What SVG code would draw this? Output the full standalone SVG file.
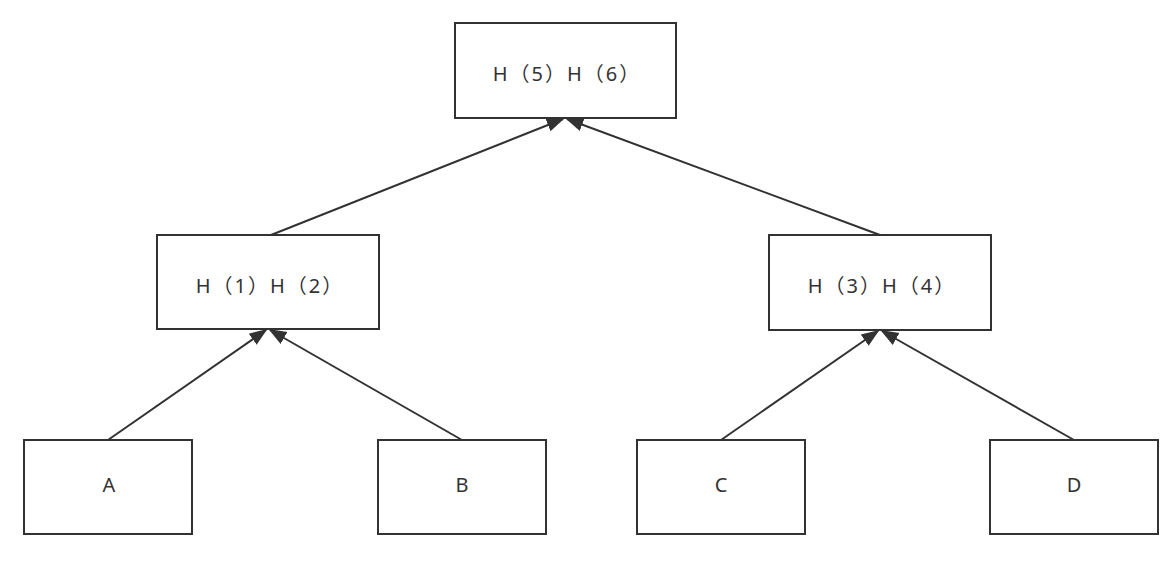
<svg xmlns="http://www.w3.org/2000/svg" width="1173" height="566" viewBox="0 0 1173 566">
<defs>
<style>
.box{fill:#fff;stroke:#323232;stroke-width:2}
.lbl{font-family:"Noto Sans","Noto Sans CJK SC",sans-serif;font-size:20px;fill:#333;text-anchor:middle}
.h{letter-spacing:2px}
.edge{stroke:#323232;stroke-width:2;fill:none;marker-end:url(#arr)}
</style>
<marker id="arr" viewBox="0 0 10 10" refX="9" refY="5" markerWidth="9" markerHeight="9" markerUnits="strokeWidth" orient="auto">
<path d="M0,1.2 L10,5 L0,8.8 Z" fill="#323232"/>
</marker>
</defs>
<rect width="1173" height="566" fill="#fff"/>
<g id="connectors">
<line class="edge" x1="271" y1="235" x2="563" y2="119"/>
<line class="edge" x1="880" y1="235" x2="567" y2="119"/>
<line class="edge" x1="108" y1="440" x2="266" y2="330"/>
<line class="edge" x1="462" y1="440" x2="270" y2="330"/>
<line class="edge" x1="721" y1="440" x2="878" y2="331"/>
<line class="edge" x1="1074" y1="440" x2="882" y2="331"/>
</g>
<g id="n56"><rect class="box" x="455" y="23" width="221" height="95"/><text class="lbl h" x="567" y="81">H（5）H（6）</text></g>
<g id="n12"><rect class="box" x="157" y="235" width="222" height="94"/><text class="lbl h" x="270" y="293">H（1）H（2）</text></g>
<g id="n34"><rect class="box" x="769" y="235" width="222" height="95"/><text class="lbl h" x="882" y="293">H（3）H（4）</text></g>
<g id="nA"><rect class="box" x="24" y="440" width="168" height="94"/><text class="lbl" x="109" y="492">A</text></g>
<g id="nB"><rect class="box" x="378" y="440" width="168" height="94"/><text class="lbl" x="462" y="492">B</text></g>
<g id="nC"><rect class="box" x="637" y="440" width="168" height="94"/><text class="lbl" x="721" y="492">C</text></g>
<g id="nD"><rect class="box" x="990" y="440" width="168" height="94"/><text class="lbl" x="1074" y="492">D</text></g>
</svg>
